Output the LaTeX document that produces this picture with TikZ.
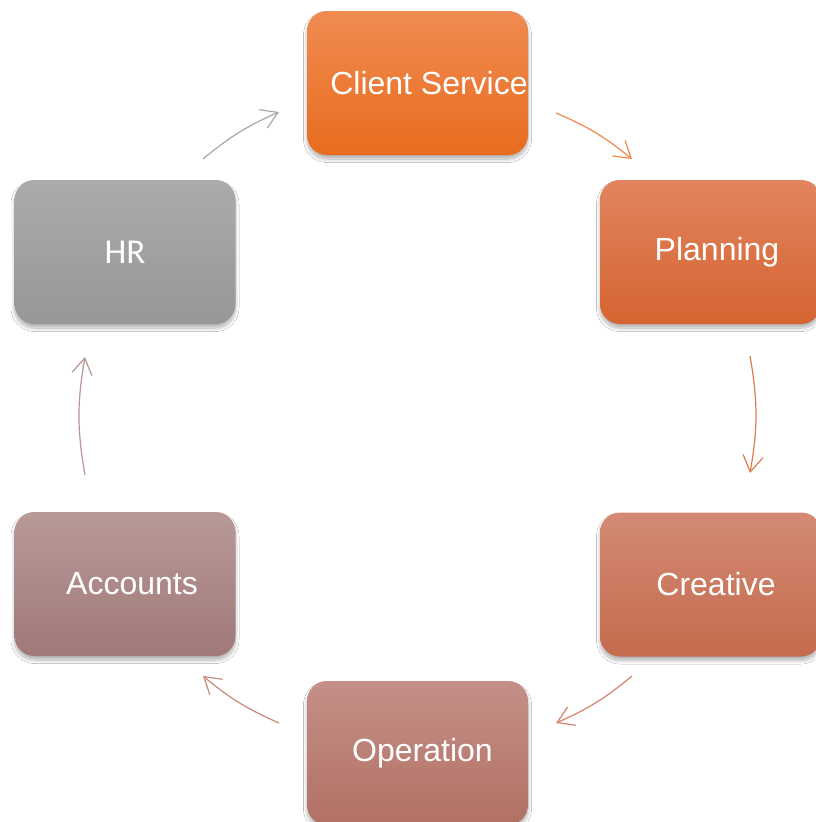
\documentclass[tikz,border=0pt]{standalone}
\usepackage{fontspec}
\setmainfont{Liberation Sans}
\newfontfamily\hrfont{Carlito}
\usetikzlibrary{arrows.meta}
\usetikzlibrary{shadows.blur}

\definecolor{clientTop}{HTML}{F08B52}
\definecolor{clientBot}{HTML}{E86C1E}
\definecolor{planTop}{HTML}{E2845E}
\definecolor{planBot}{HTML}{D56431}
\definecolor{creaTop}{HTML}{D38A73}
\definecolor{creaBot}{HTML}{C46B4E}
\definecolor{operTop}{HTML}{C49088}
\definecolor{operBot}{HTML}{B27064}
\definecolor{accTop}{HTML}{B89A98}
\definecolor{accBot}{HTML}{A07878}
\definecolor{hrTop}{HTML}{ABABAB}
\definecolor{hrBot}{HTML}{979797}

\begin{document}
\begin{tikzpicture}[
    x=1pt, y=1pt,
    box/.style={rectangle, rounded corners=20pt, minimum width=221pt,
        minimum height=144pt, inner sep=0pt, text=white,
        font=\fontsize{32}{38}\selectfont,
        blur shadow={shadow xshift=0pt, shadow yshift=-4pt,
            shadow blur radius=3.5pt, shadow blur steps=12,
            shadow opacity=30}},
    flow/.style={line width=1.2pt, -{Straight Barb[length=16pt, width=20pt]}},
]
\path[use as bounding box, fill=white] (0,0) rectangle (815,-822);

\foreach \name/\x/\y/\pad/\txt/\ctop/\cbot in {
    client/417.5/-83/23/Client Service/clientTop/clientBot,
    planning/710.5/-252/13/Planning/planTop/planBot,
    creative/710.5/-584.5/11/Creative/creaTop/creaBot,
    operation/417.5/-753/10/Operation/operTop/operBot,
    accounts/125/-584/14/Accounts/accTop/accBot,
    hr/125/-252/0/{\hrfont\fontsize{35}{40}\selectfont HR}/hrTop/hrBot} {
    \node[box, top color=\ctop, bottom color=\cbot] (\name) at (\x,\y) {\hspace*{\pad pt}\txt};
}

% arrow ends
\coordinate (c-out) at (556,-113);  \coordinate (p-in) at (632,-159);
\coordinate (p-out) at (750,-356);  \coordinate (cr-in) at (750,-473);
\coordinate (cr-out) at (632,-676); \coordinate (o-in) at (556,-723);
\coordinate (o-out) at (279,-723);  \coordinate (a-in) at (203,-676);
\coordinate (a-out) at (85,-475);   \coordinate (h-in) at (85,-357);
\coordinate (h-out) at (203,-159);  \coordinate (c-in) at (279,-112);

\draw[flow, color={rgb,255:red,238;green,138;blue,74}] (c-out) to[bend left=8] (p-in);
\draw[flow, color={rgb,255:red,224;green,122;blue,78}] (p-out) to[bend left=10] (cr-in);
\draw[flow, color={rgb,255:red,212;green,130;blue,106}] (cr-out) to[bend left=8] (o-in);
\draw[flow, color={rgb,255:red,200;green,138;blue,124}] (o-out) to[bend left=8] (a-in);
\draw[flow, color={rgb,255:red,184;green,148;blue,148}] (a-out) to[bend left=10] (h-in);
\draw[flow, color={rgb,255:red,168;green,168;blue,168}] (h-out) to[bend left=8] (c-in);
\end{tikzpicture}
\end{document}
